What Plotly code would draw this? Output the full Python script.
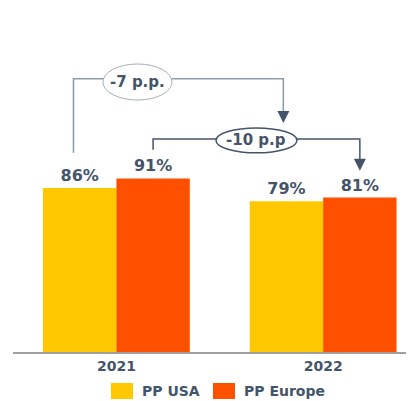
import plotly.graph_objects as go

# data
YEARS = ["2021", "2022"]
SERIES = ["PP USA", "PP Europe"]
USA_VALUES = [86, 79]
EUROPE_VALUES = [91, 81]
CHANGE_LABELS = ["-7 p.p.", "-10 p.p"]

COLORS = ["#FFC800", "#FF5000"]
TEXT_COLOR = "#44546A"
LIGHT_LINE = "#8C9BAB"
FONT = "DejaVu Sans"

# page body has an 8px margin, so the figure is drawn a bit smaller
OFF = 8
W, H = 414 - OFF, 401 - OFF
ML, MR, MT, MB = 13 - OFF, 4, 10 - OFF, 49
X_RANGE = [-0.5, 1.42]
Y_RANGE = [0, 179.3]
BAR_GAP = 0.29
HALF = (1 - BAR_GAP) / 4  # offset of each bar center inside a group

xpos = list(range(len(YEARS)))

fig = go.Figure()
for name, vals, col in [(SERIES[0], USA_VALUES, COLORS[0]),
                        (SERIES[1], EUROPE_VALUES, COLORS[1])]:
    fig.add_trace(go.Bar(
        x=xpos, y=vals, name=name,
        marker=dict(color=col, line=dict(width=0)),
        text=[f"{v}%" for v in vals],
        textposition="outside",
        textfont=dict(family=FONT, size=16, color=TEXT_COLOR, weight="bold"),
        cliponaxis=False,
        showlegend=False,
    ))

# bracket geometry (data units)
b1_x0 = xpos[0] - HALF - 0.03
b1_x1 = xpos[1] - HALF - 0.015
b1_top = 143.2
b1_foot = USA_VALUES[0] + 18.4
b1_tip = USA_VALUES[1] + 41

b2_x0 = xpos[0] + HALF
b2_x1 = xpos[1] + HALF
b2_top = 111.7
b2_foot = EUROPE_VALUES[0] + 15
b2_tip = EUROPE_VALUES[1] + 14

shapes = [
    dict(type="path", xref="x", yref="y",
         path=f"M{b1_x0},{b1_foot} L{b1_x0},{b1_top} L{b1_x1},{b1_top} L{b1_x1},{b1_tip + 4}",
         line=dict(color=LIGHT_LINE, width=1.5)),
    dict(type="path", xref="x", yref="y",
         path=f"M{b2_x0},{b2_foot} L{b2_x0},{b2_top} L{b2_x1},{b2_top} L{b2_x1},{b2_tip + 4}",
         line=dict(color=TEXT_COLOR, width=1.5)),
    dict(type="circle", xref="x", yref="y", x0=-0.065, x1=0.269, y0=132.1, y1=151.0,
         fillcolor="white", line=dict(color="#A6AEB6", width=1)),
    dict(type="circle", xref="x", yref="y", x0=0.482, x1=0.873, y0=104.4, y1=117.5,
         fillcolor="white", line=dict(color=TEXT_COLOR, width=1.5)),
]

annotations = [
    dict(x=0.102, y=141.8, xref="x", yref="y", text=f"<b>{CHANGE_LABELS[0]}</b>",
         showarrow=False, font=dict(family=FONT, size=15, color=TEXT_COLOR)),
    dict(x=0.677, y=110.9, xref="x", yref="y", text=f"<b>{CHANGE_LABELS[1]}</b>",
         showarrow=False, font=dict(family=FONT, size=15, color=TEXT_COLOR)),
]
for x, tip, top in [(b1_x1, b1_tip, b1_top), (b2_x1, b2_tip, b2_top)]:
    annotations.append(dict(
        x=x, y=tip, xref="x", yref="y", ax=x, ay=tip + 7, axref="x", ayref="y",
        text="", showarrow=True, arrowhead=2, arrowsize=1.5, arrowwidth=1.6,
        arrowcolor=TEXT_COLOR, standoff=0, startstandoff=0,
    ))

# manual legend below the axis (positions given in page pixels)
pw = W - ML - MR
ph = H - MT - MB
def px_x(p):
    return (p - OFF - ML) / pw
def px_y(p):
    return (H - MB - (p - OFF)) / ph

legend_x = [111, 213]
for lx, name, col in zip(legend_x, SERIES, COLORS):
    shapes.append(dict(type="rect", xref="paper", yref="paper",
                       x0=px_x(lx), x1=px_x(lx + 22), y0=px_y(399), y1=px_y(383),
                       fillcolor=col, line=dict(width=0)))
    annotations.append(dict(x=px_x(lx + 29), y=px_y(391), xref="paper", yref="paper",
                            text=f"<b>{name}</b>", showarrow=False, xanchor="left",
                            yanchor="middle",
                            font=dict(family=FONT, size=14, color=TEXT_COLOR)))

fig.update_layout(
    width=W, height=H,
    margin=dict(l=ML, r=MR, t=MT, b=MB),
    plot_bgcolor="white", paper_bgcolor="white",
    barmode="group", bargap=BAR_GAP, bargroupgap=0,
    shapes=shapes, annotations=annotations,
    xaxis=dict(range=X_RANGE, tickvals=xpos, ticktext=[f"<b>{y}</b>" for y in YEARS],
               showline=True, linecolor="#A0A0A0", linewidth=1.5, showgrid=False,
               zeroline=False, ticks="",
               tickfont=dict(family=FONT, size=14, color=TEXT_COLOR)),
    yaxis=dict(range=Y_RANGE, visible=False, showgrid=False, zeroline=False),
    font=dict(family=FONT, color=TEXT_COLOR),
)

fig.write_html("out.html")
